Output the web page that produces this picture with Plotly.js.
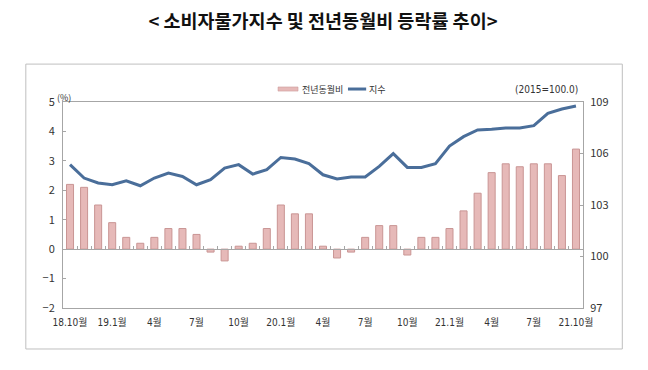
<!DOCTYPE html>
<html>
<head>
<meta charset="utf-8">
<script src="https://cdn.plot.ly/plotly-3.0.1.min.js"></script>
<style>html,body{margin:0;padding:0;background:#fff;}#chart{width:648px;height:370px;}</style>
</head>
<body>
<div id="chart"></div>
<script>
// Months (18.10 .. 21.10)
var months = ["18.10","18.11","18.12","19.01","19.02","19.03","19.04","19.05","19.06","19.07","19.08","19.09","19.10","19.11","19.12",
  "20.01","20.02","20.03","20.04","20.05","20.06","20.07","20.08","20.09","20.10","20.11","20.12",
  "21.01","21.02","21.03","21.04","21.05","21.06","21.07","21.08","21.09","21.10"];
// Year-on-year change (%)
var yoy = [2.2,2.1,1.5,0.9,0.4,0.2,0.4,0.7,0.7,0.5,-0.1,-0.4,0.1,0.2,0.7,
  1.5,1.2,1.2,0.1,-0.3,-0.1,0.4,0.8,0.8,-0.2,0.4,0.4,
  0.7,1.3,1.9,2.6,2.9,2.8,2.9,2.9,2.5,3.4];
// CPI index (2015=100)
var cpi = [105.35,104.57,104.28,104.18,104.41,104.12,104.57,104.86,104.66,104.18,104.47,105.15,105.35,104.80,105.06,
  105.77,105.68,105.41,104.76,104.52,104.63,104.63,105.25,105.99,105.19,105.19,105.41,
  106.43,106.98,107.37,107.41,107.49,107.49,107.62,108.34,108.59,108.77];
var tickMonths = ["18.10","19.01","19.04","19.07","19.10","20.01","20.04","20.07","20.10","21.01","21.04","21.07","21.10"];
var tickLabels = ["18.10월","19.1월","4월","7월","10월","20.1월","4월","7월","10월","21.1월","4월","7월","21.10월"];
var seriesNames = ["전년동월비","지수"];

var FONT = "Noto Sans CJK KR, sans-serif";
var NARROW = "DejaVu Sans Condensed, Liberation Sans Narrow, Noto Sans CJK KR, sans-serif";
var GRAY = "#a6a6a6";
var BARFILL = "#e6b9b8", BARLINE = "#c99594", LINECOL = "#4a6e9a";

var traces = [
  {type:"bar", name:seriesNames[0], x:months, y:yoy, width:0.5,
   marker:{color:BARFILL, line:{color:BARLINE, width:1}}},
  {type:"scatter", mode:"lines", name:seriesNames[1], x:months, y:cpi, yaxis:"y2",
   line:{color:LINECOL, width:3}},
  {type:"scatter", x:[], y:[], xaxis:"x2", showlegend:false, hoverinfo:"skip"}
];

var layout = {
  width:648, height:370,
  margin:{l:63, r:65, t:102, b:62},
  paper_bgcolor:"#ffffff", plot_bgcolor:"#ffffff",
  font:{family:FONT, size:10, color:"#333333"},
  title:{text:"<b>< 소비자물가지수 및 전년동월비 등락률 추이></b>", font:{family:FONT, size:18.5, color:"#111111"},
         x:0.5, xanchor:"center", xref:"paper", y:0.943, yref:"container", yanchor:"middle"},
  showlegend:false,
  bargap:0.5,
  xaxis:{type:"category", range:[-0.5,36.5], tickmode:"array", tickvals:tickMonths, ticktext:tickLabels,
         showline:true, mirror:true, linecolor:GRAY, linewidth:1, ticks:"", showgrid:false, zeroline:false,
         tickfont:{family:NARROW, size:10, color:"#333"}, ticklabelstandoff:5},
  xaxis2:{overlaying:"x", anchor:"free", position:2/7, type:"linear", range:[-0.5,36.5],
          tickmode:"linear", tick0:0.5, dtick:1, ticks:"inside", ticklen:3, tickcolor:GRAY,
          showticklabels:false, showline:true, linecolor:GRAY, linewidth:1, showgrid:false, zeroline:false},
  yaxis:{range:[-2,5], dtick:1, tick0:0, ticks:"inside", ticklen:3, tickcolor:GRAY, showline:true, linecolor:GRAY,
         showgrid:false, zeroline:false, tickfont:{family:FONT, size:11, color:"#333"}, ticklabelstandoff:5},
  yaxis2:{overlaying:"y", side:"right", range:[97,109], dtick:3, tick0:97, ticks:"inside", ticklen:3, tickcolor:GRAY,
          showline:true, linecolor:GRAY, showgrid:false, zeroline:false, tickfont:{family:FONT, size:11, color:"#333"},
          ticklabelstandoff:4},
  annotations:[
    {text:"(%)", xref:"paper", yref:"paper", x:-0.016, y:1.02, xanchor:"left", yanchor:"middle", showarrow:false,
     font:{family:FONT, size:9, color:"#333"}},
    {text:"(2015=100.0)", xref:"paper", yref:"paper", x:0.995, y:1.06, xanchor:"right", yanchor:"middle", showarrow:false,
     font:{family:NARROW, size:10, color:"#333"}},
    {text:seriesNames[0], xref:"paper", yref:"paper", x:0.456, y:1.063, xanchor:"left", yanchor:"middle", showarrow:false,
     font:{family:FONT, size:9, color:"#333"}},
    {text:seriesNames[1], xref:"paper", yref:"paper", x:0.585, y:1.063, xanchor:"left", yanchor:"middle", showarrow:false,
     font:{family:FONT, size:9, color:"#333"}}
  ],
  shapes:[
    {type:"rect", xref:"paper", yref:"paper", x0:-0.0715, x1:1.0756, y0:-0.199, y1:1.184,
     line:{color:"#bfbfbf", width:1}, fillcolor:"rgba(0,0,0,0)", layer:"below"},
    {type:"rect", xref:"paper", yref:"paper", x0:0.4135, x1:0.452, y0:1.053, y1:1.073,
     line:{color:BARLINE, width:0.5}, fillcolor:BARFILL},
    {type:"line", xref:"paper", yref:"paper", x0:0.548, x1:0.583, y0:1.063, y1:1.063,
     line:{color:LINECOL, width:3}}
  ]
};

Plotly.newPlot("chart", traces, layout, {displayModeBar:false, staticPlot:true});
</script>
</body>
</html>
